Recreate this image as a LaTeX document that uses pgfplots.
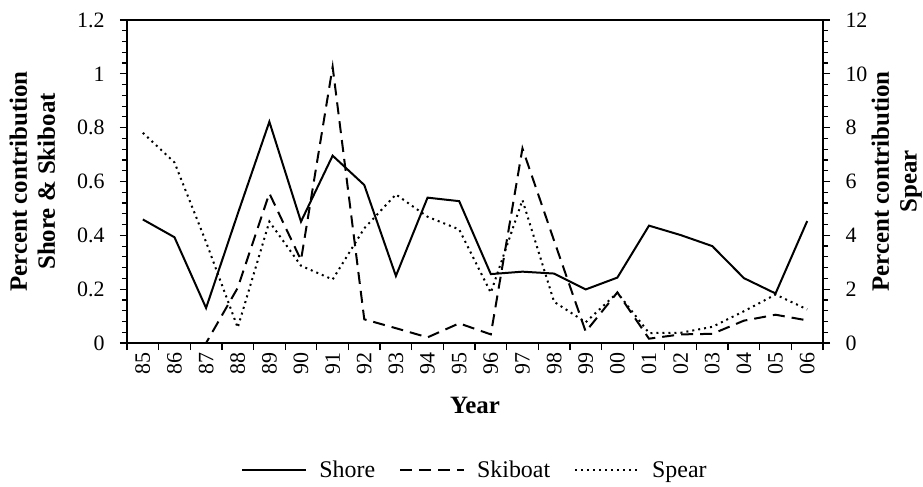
\documentclass[border=0pt]{standalone}
\usepackage{pgfplots}
\pgfplotsset{compat=1.18}
\usepackage{fontspec}
\setmainfont{Liberation Serif}
\pgfplotstableread{
x shore skiboat spear
0  0.459 0     7.81
1  0.393 0     6.71
2  0.130 0     3.75
3  0.480 0.205 0.57
4  0.822 0.556 4.51
5  0.451 0.308 2.87
6  0.696 1.026 2.36
7  0.587 0.088 4.26
8  0.249 0.055 5.52
9  0.540 0.021 4.69
10 0.527 0.073 4.22
11 0.256 0.032 1.87
12 0.265 0.723 5.31
13 0.258 0.380 1.53
14 0.199 0.042 0.77
15 0.243 0.188 1.87
16 0.436 0.016 0.37
17 0.401 0.032 0.38
18 0.360 0.034 0.60
19 0.241 0.083 1.18
20 0.184 0.105 1.80
21 0.453 0.084 1.25
}\data
\begin{document}
\begin{tikzpicture}
\pgfplotsset{
  common/.style={
    scale only axis, width=696bp, height=323bp,
    xmin=-0.5, xmax=21.5,
    tick align=outside,
    major tick length=7bp, minor tick length=5bp,
    every tick/.style={black, line width=1.2bp},
    axis line style={line width=1.6bp},
    tick label style={font=\fontsize{22}{25}\selectfont},
    /pgf/number format/assume math mode=true,
    label style={font=\bfseries\fontsize{25}{28}\selectfont, align=center},
  }
}
\begin{axis}[common,
  ymin=0, ymax=1.2,
  ytick={0,0.2,0.4,0.6,0.8,1,1.2},
  yticklabels={0,0.2,0.4,0.6,0.8,1,1.2},
  minor y tick num=4,
  ytick pos=left, xtick pos=bottom,
  xtick={-0.5,0.5,...,21.5}, xticklabels={},
  extra x ticks={0,...,21},
  extra x tick labels={85,86,87,88,89,90,91,92,93,94,95,96,97,98,99,00,01,02,03,04,05,06},
  extra x tick style={major tick length=0pt, tick style={draw=none},
     xticklabel style={rotate=90, anchor=east, xshift=-6bp}},
  yticklabel style={xshift=-12bp},
  ylabel={Percent contribution\\Shore \& Skiboat},
  ylabel style={at={(axis description cs:-0.136,0.5)}, anchor=center},
  xlabel={Year},
  xlabel style={at={(axis description cs:0.5,-0.192)}, anchor=center},
  legend style={at={(axis description cs:0.5,-0.393)}, anchor=center,
     draw=none, legend columns=3, font=\fontsize{24}{27}\selectfont,
     /tikz/every even column/.append style={column sep=22bp},
     /tikz/every odd column/.append style={column sep=10bp}},
  legend image code/.code={\draw[#1] (0bp,0bp) -- (64bp,0bp);},
]
\addplot[black, line width=2bp] table[x=x, y=shore] {\data};
\addlegendentry{Shore}
\addplot[black, line width=2bp, dash pattern=on 12bp off 7bp] table[x=x, y=skiboat] {\data};
\addlegendentry{Skiboat}
\addlegendimage{black, line width=2bp, dash pattern=on 2bp off 4bp}
\addlegendentry{Spear}
\end{axis}
\begin{axis}[common,
  ymin=0, ymax=12,
  ytick={0,2,...,12},
  minor y tick num=4,
  axis x line=none, axis y line*=right,
  ylabel={Percent contribution\\Spear},
  ylabel style={at={(axis description cs:1.106,0.5)}, anchor=center, rotate=0},
  yticklabel style={anchor=west, xshift=12bp},
]
\addplot[black, line width=2bp, dash pattern=on 2bp off 4bp] table[x=x, y=spear] {\data};
\end{axis}
\pgfresetboundingbox
\path (-127bp,-144bp) rectangle (796bp,343bp);
\end{tikzpicture}
\end{document}
